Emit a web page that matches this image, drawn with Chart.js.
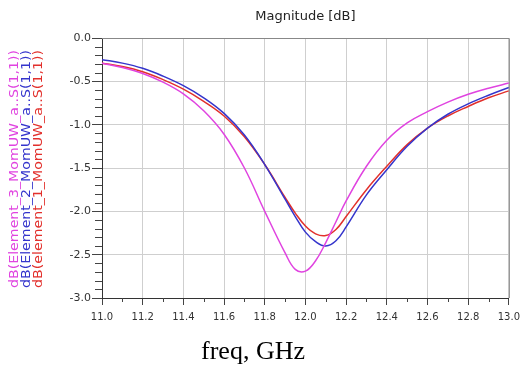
<!DOCTYPE html>
<html>
<head>
<meta charset="UTF-8">
<title>Magnitude [dB]</title>
<script src="https://cdn.jsdelivr.net/npm/chart.js"></script>
<style>
  html, body { margin: 0; padding: 0; background: #fff; }
  #wrap { width: 526px; height: 371px; position: relative; }
</style>
</head>
<body>
<div id="wrap"><canvas id="magChart"></canvas></div>
<script>
// frequency points (GHz)
const freq = [11.0, 11.1, 11.2, 11.3, 11.4, 11.5, 11.6, 11.7, 11.8, 11.9, 11.95,
              12.0, 12.05, 12.1, 12.15, 12.2, 12.3, 12.4, 12.5, 12.6, 12.7, 12.8, 12.9, 13.0];

// dB(S(1,1)) per element
const elem3 = [-0.29, -0.34, -0.41, -0.51, -0.645, -0.84, -1.11, -1.50, -2.00, -2.48, -2.67,
               -2.69, -2.57, -2.36, -2.12, -1.88, -1.48, -1.18, -0.98, -0.85, -0.74, -0.65, -0.58, -0.52];
const elem2 = [-0.25, -0.29, -0.35, -0.44, -0.55, -0.69, -0.87, -1.12, -1.46, -1.86, -2.06,
               -2.24, -2.35, -2.40, -2.34, -2.18, -1.81, -1.52, -1.25, -1.04, -0.88, -0.76, -0.66, -0.57];
const elem1 = [-0.29, -0.33, -0.39, -0.48, -0.59, -0.73, -0.90, -1.14, -1.46, -1.84, -2.02,
               -2.17, -2.26, -2.28, -2.21, -2.06, -1.75, -1.48, -1.23, -1.04, -0.90, -0.79, -0.69, -0.61];

const seriesNames = ['dB(Element_3_MomUW_a..S(1,1))', 'dB(Element_2_MomUW_a..S(1,1))', 'dB(element_1_MomUW_a..S(1,1))'];
const seriesColors = ['#e044e0', '#3535cc', '#e2302c'];

const toPoints = ys => freq.map((f, i) => ({ x: f, y: ys[i] }));

// minor ticks, frame and rotated series labels
const decorations = {
    id: 'decorations',
    afterDraw(chart) {
        const ctx = chart.ctx;
        const area = chart.chartArea;
        const xs = chart.scales.x, ys = chart.scales.y;
        ctx.save();
        ctx.strokeStyle = '#444';
        ctx.lineWidth = 1;
        ctx.beginPath();
        for (let i = 1; i < 20; i += 2) {
            const px = Math.round(xs.getPixelForValue(11 + i * 0.1)) + 0.5;
            ctx.moveTo(px, area.bottom);
            ctx.lineTo(px, area.bottom + 4);
        }
        for (let i = 1; i < 30; i++) {
            if (i % 5 === 0) continue;
            const py = Math.round(ys.getPixelForValue(-i * 0.1)) + 0.5;
            ctx.moveTo(area.left - 7, py);
            ctx.lineTo(area.left, py);
        }
        ctx.stroke();

        ctx.strokeStyle = '#888';
        ctx.beginPath();
        ctx.moveTo(area.left, area.top + 0.5);
        ctx.lineTo(area.right + 0.5, area.top + 0.5);
        ctx.lineTo(area.right + 0.5, area.bottom);
        ctx.stroke();

        // series labels, rotated and stretched to the reference length
        ctx.font = '11.5px "DejaVu Sans"';
        ctx.textAlign = 'left';
        ctx.textBaseline = 'middle';
        chart.data.datasets.forEach((ds, i) => {
            const w = ctx.measureText(ds.label).width;
            ctx.save();
            ctx.translate(15 + i * 12, 288);
            ctx.rotate(-Math.PI / 2);
            ctx.scale(238 / w, 1);
            ctx.fillStyle = ds.borderColor;
            ctx.fillText(ds.label, 0, 0);
            ctx.restore();
        });

        // x axis caption
        ctx.font = '26px "Liberation Serif"';
        ctx.fillStyle = '#000';
        ctx.textAlign = 'center';
        ctx.textBaseline = 'middle';
        ctx.fillText('freq, GHz', 253, 352);
        ctx.restore();
    }
};

new Chart(document.getElementById('magChart'), {
    type: 'line',
    data: {
        datasets: [
            { label: seriesNames[0], data: toPoints(elem3), borderColor: seriesColors[0] },
            { label: seriesNames[1], data: toPoints(elem2), borderColor: seriesColors[1] },
            { label: seriesNames[2], data: toPoints(elem1), borderColor: seriesColors[2] }
        ]
    },
    options: {
        responsive: true,
        maintainAspectRatio: false,
        animation: false,
        layout: { padding: { left: 0, right: 11, top: 0, bottom: 0 } },
        elements: {
            point: { radius: 0 },
            line: { borderWidth: 1.5, tension: 0.4, fill: false }
        },
        plugins: {
            legend: { display: false },
            tooltip: { enabled: false },
            title: {
                display: true,
                text: 'Magnitude [dB]',
                fullSize: false,
                color: '#222',
                font: { family: 'DejaVu Sans', size: 13, weight: 'normal' },
                padding: { top: 9, bottom: 13.4 }
            }
        },
        scales: {
            x: {
                type: 'linear',
                min: 11, max: 13,
                afterFit: s => { s.height = 73; },
                ticks: {
                    stepSize: 0.2,
                    maxRotation: 0,
                    padding: 6,
                    color: '#333',
                    font: { family: 'DejaVu Sans', size: 10 },
                    callback: v => v.toFixed(1)
                },
                grid: { color: '#cfcfcf', tickColor: '#444', tickLength: 7 },
                border: { color: '#333', width: 1 }
            },
            y: {
                min: -3, max: 0,
                afterFit: s => { s.width = 102; },
                ticks: {
                    stepSize: 0.5,
                    padding: 1,
                    color: '#333',
                    font: { family: 'DejaVu Sans', size: 11 },
                    callback: v => v.toFixed(1)
                },
                grid: { color: '#cfcfcf', tickColor: '#444', tickLength: 10 },
                border: { color: '#333', width: 1 }
            }
        }
    },
    plugins: [decorations]
});
</script>
</body>
</html>
